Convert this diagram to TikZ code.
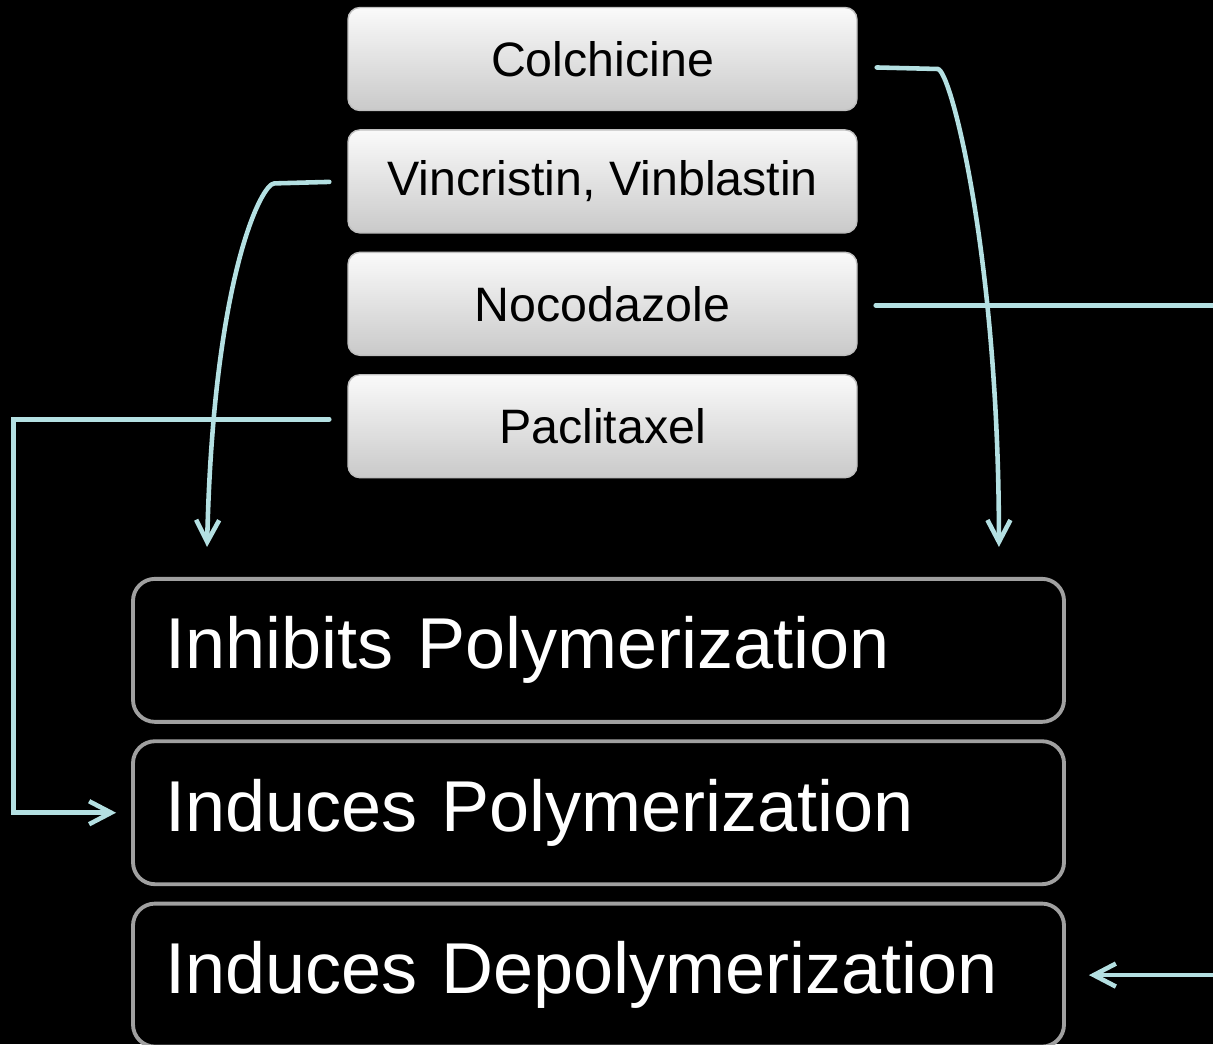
\documentclass[tikz,border=0pt]{standalone}
\usepackage{fontspec}
\setmainfont{Liberation Sans}
\usetikzlibrary{positioning,arrows.meta}
\definecolor{tubcyan}{RGB}{180,224,226}
\definecolor{glossgray}{RGB}{160,160,160}

\begin{document}
\begin{tikzpicture}[node distance=0.36cm,
    drug/.style={rectangle,rounded corners=0.24cm,draw=gray!50,line width=0.8pt,top color=gray!4,bottom color=gray!42,minimum width=10.18cm,minimum height=2.06cm,align=center,font=\fontsize{27.5}{32}\selectfont,text=black},
    effect/.style={rectangle,rounded corners=0.44cm,draw=glossgray,line width=2.2pt,fill=black,minimum width=18.62cm,minimum height=2.86cm,text width=17.34cm,align=left,font=\fontsize{41}{49}\selectfont,text=white},
    arrow/.style={-{Straight Barb[length=4.4mm,width=4.6mm]},line width=2.6pt,tubcyan,line cap=round}]

    \useasboundingbox[fill=black] (0,0) rectangle (24.26,-20.88);

    \node[drug] (colch) at (12.05,-1.18) {Colchicine};
    \node[drug,below=of colch] (vinc) {Vincristin, Vinblastin};
    \node[drug,below=of vinc] (noco) {Nocodazole};
    \node[drug,below=of noco] (pacli) {Paclitaxel};

    \node[effect,below=1.97cm of pacli,xshift=-0.08cm] (inhib) {Inhibits Polymerization};
    \node[effect,below=0.31cm of inhib] (induc) {Induces Polymerization};
    \node[effect,below=0.31cm of induc] (depol) {Induces Depolymerization};

    \coordinate (colTip) at ([xshift=-1.34cm,yshift=0.6cm]inhib.north east);
    \coordinate (vincTip) at ([xshift=1.52cm,yshift=0.6cm]inhib.north west);

    \draw[arrow,shorten <=0.38cm] ([yshift=-0.16cm]colch.east) -- ++(1.6,-0.04) .. controls +(0.26,0) and +(0,5.8) .. (colTip);
    \draw[arrow,shorten <=0.36cm] (vinc.west) -- ++(-1.46,-0.04) .. controls +(-0.26,0) and +(0.12,5.36) .. (vincTip);
    \draw[arrow,shorten <=0.36cm,shorten >=0.46cm] ([yshift=-0.03cm]noco.east) -- ++(8,0) |- (depol.east);
    \draw[arrow,shorten <=0.36cm,shorten >=0.3cm] ([yshift=0.14cm]pacli.west) -- ++(-6.68,0) |- (induc.west);

\end{tikzpicture}
\end{document}
